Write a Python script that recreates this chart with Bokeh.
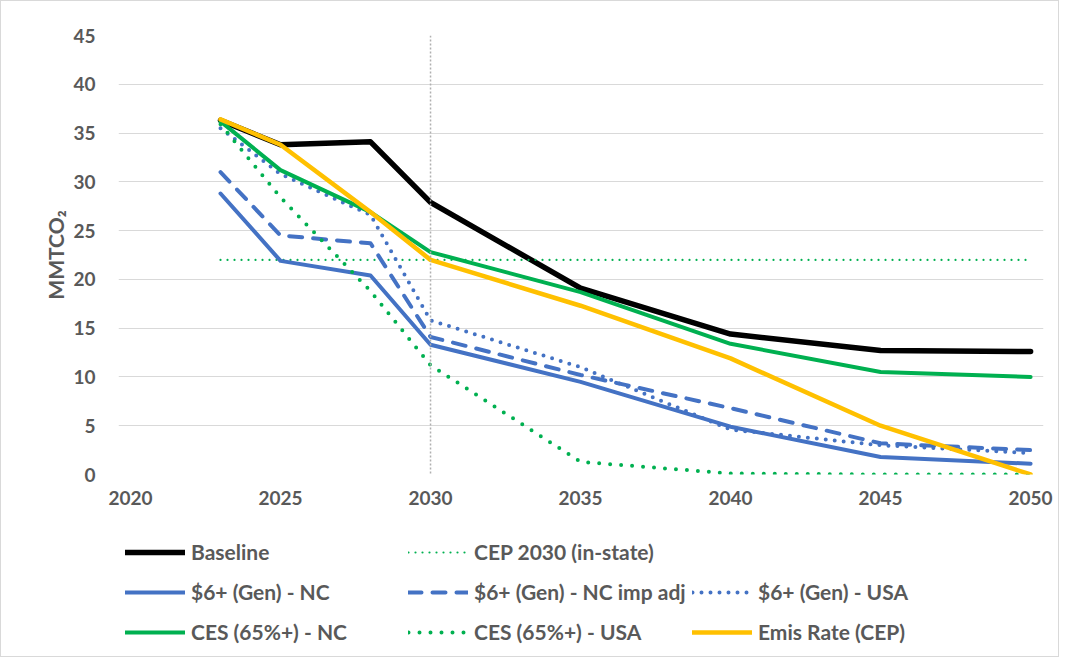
from bokeh.plotting import figure
from bokeh.layouts import column
from bokeh.models import Range1d, FixedTicker, Legend, LegendItem, Span
from bokeh.embed import file_html
from bokeh.resources import INLINE

# ---- data ----
years = [2023, 2025, 2028, 2030, 2035, 2040, 2045, 2050]
baseline = [36.3, 33.8, 34.1, 27.9, 19.1, 14.4, 12.7, 12.6]
cep_2030 = [22.0, 22.0, 22.0, 22.0, 22.0, 22.0, 22.0, 22.0]
gen_nc = [28.8, 21.9, 20.4, 13.3, 9.5, 4.9, 1.8, 1.1]
gen_nc_adj = [31.0, 24.5, 23.7, 14.1, 10.2, 6.8, 3.2, 2.5]
gen_usa = [35.5, 30.8, 26.6, 15.8, 11.0, 4.6, 3.0, 2.2]
ces_nc = [36.2, 31.2, 26.9, 22.8, 18.7, 13.4, 10.5, 10.0]
ces_usa = [35.9, 28.4, 18.8, 11.2, 1.3, 0.1, 0.0, 0.0]
emis_rate = [36.4, 33.8, 26.9, 22.0, 17.3, 11.9, 5.0, 0.0]

x_ticks = [2020, 2025, 2030, 2035, 2040, 2045, 2050]
y_ticks = [0, 5, 10, 15, 20, 25, 30, 35, 40, 45]
marker_year = 2030

FONT = "Lato"
TXT = "#595959"
BLACK = "#000000"
BLUE = "#4472C4"
GREEN = "#00B050"
GOLD = "#FFC000"

styles = {
    "Baseline": dict(line_color=BLACK, line_width=5.5, line_cap="round", line_join="round"),
    "CEP 2030 (in-state)": dict(line_color=GREEN, line_width=2.2, line_cap="round", line_dash="0 7"),
    "$6+ (Gen) - NC": dict(line_color=BLUE, line_width=4, line_cap="round", line_join="round"),
    "$6+ (Gen) - NC imp adj": dict(line_color=BLUE, line_width=4, line_cap="round", line_join="round", line_dash="13 11"),
    "$6+ (Gen) - USA": dict(line_color=BLUE, line_width=4, line_cap="round", line_join="round", line_dash="0 9"),
    "CES (65%+) - NC": dict(line_color=GREEN, line_width=4, line_cap="round", line_join="round"),
    "CES (65%+) - USA": dict(line_color=GREEN, line_width=4, line_cap="round", line_join="round", line_dash="0 11"),
    "Emis Rate (CEP)": dict(line_color=GOLD, line_width=4.5, line_cap="round", line_join="round"),
}
series = {
    "Baseline": baseline,
    "CEP 2030 (in-state)": cep_2030,
    "$6+ (Gen) - NC": gen_nc,
    "$6+ (Gen) - NC imp adj": gen_nc_adj,
    "$6+ (Gen) - USA": gen_usa,
    "CES (65%+) - NC": ces_nc,
    "CES (65%+) - USA": ces_usa,
    "Emis Rate (CEP)": emis_rate,
}

p = figure(width=1057, height=510, output_backend="svg", toolbar_location=None,
           title=None,
           x_range=Range1d(2019.6, 2050.43), y_range=Range1d(0, 45),
           min_border_left=117, min_border_right=15, min_border_top=34,
           min_border_bottom=37)
p.outline_line_color = None
p.background_fill_color = "white"
p.border_fill_color = "white"

p.xgrid.visible = False
p.ygrid.ticker = FixedTicker(ticks=y_ticks)
p.ygrid.grid_line_color = "#d9d9d9"
p.ygrid.grid_line_width = 1

for ax in (p.xaxis[0], p.yaxis[0]):
    ax.axis_line_color = None
    ax.major_tick_line_color = None
    ax.minor_tick_line_color = None
    ax.major_label_text_font = FONT
    ax.major_label_text_font_size = "19px"
    ax.major_label_text_font_style = "bold"
    ax.major_label_text_color = TXT
p.xaxis.ticker = FixedTicker(ticks=x_ticks)
p.yaxis.ticker = FixedTicker(ticks=y_ticks)
p.xaxis.major_label_standoff = 10
p.yaxis.major_label_standoff = 17
p.yaxis.axis_label = "MMTCO₂"
p.yaxis.axis_label_text_font = FONT
p.yaxis.axis_label_text_font_size = "21px"
p.yaxis.axis_label_text_font_style = "bold"
p.yaxis.axis_label_text_color = TXT
p.yaxis.axis_label_standoff = 2

for name, vals in series.items():
    p.line(years, vals, **styles[name])

p.add_layout(Span(location=marker_year, dimension="height", line_color="#b0b0b0",
                  line_width=1.5, line_dash="2 2"))

# ---- legend panel (frame aligned with the chart's frame by the column) ----
leg = figure(width=1057, height=145, output_backend="svg", toolbar_location=None,
             title=None, x_axis_type=None, y_axis_type=None,
             x_range=Range1d(0, 1), y_range=Range1d(0, 1),
             min_border=0, min_border_left=0, min_border_right=0,
             min_border_top=0, min_border_bottom=0)
leg.outline_line_color = None
leg.grid.visible = False
leg.background_fill_color = "white"
leg.border_fill_color = "white"

layout_rows = [
    ["Baseline", "CEP 2030 (in-state)"],
    ["$6+ (Gen) - NC", "$6+ (Gen) - NC imp adj", "$6+ (Gen) - USA"],
    ["CES (65%+) - NC", "CES (65%+) - USA", "Emis Rate (CEP)"],
]
col_x = [7, 290, 574]
row_bottom = [92, 52, 12]
for ri, row in enumerate(layout_rows):
    for ci, name in enumerate(row):
        # proxy renderer (off-range, draws nothing) so the legend can show the style
        r = leg.line([years[0]], [series[name][0]], **styles[name])
        lg = Legend(items=[LegendItem(label=name, renderers=[r])],
                    location=(col_x[ci], row_bottom[ri]), orientation="horizontal",
                    padding=0, margin=0, spacing=0,
                    border_line_color=None, background_fill_alpha=0,
                    glyph_width=60, glyph_height=20, label_standoff=6, label_height=20,
                    label_text_font=FONT, label_text_font_size="21px",
                    label_text_font_style="bold", label_text_color=TXT)
        leg.add_layout(lg)

page = column(p, leg, spacing=0, styles={"border": "1px solid #d9d9d9"})
open("out.html", "w").write(file_html(page, INLINE))
